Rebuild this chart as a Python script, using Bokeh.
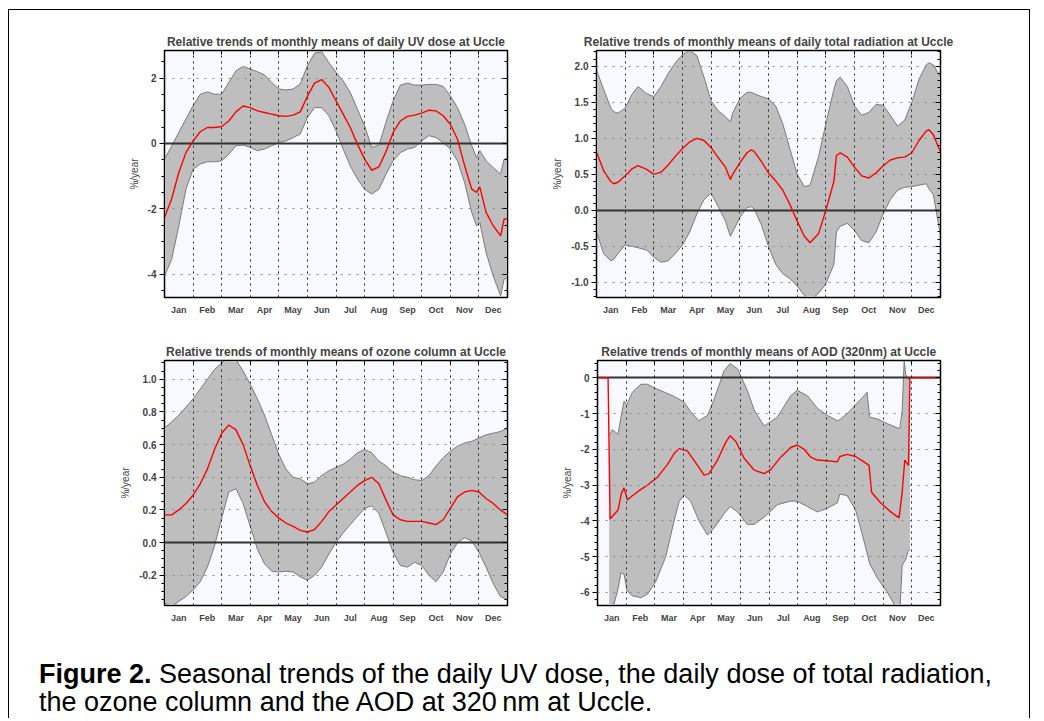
import numpy as np
from bokeh.plotting import figure
from bokeh.models import Range1d, FixedTicker, LinearAxis, NumeralTickFormatter, Div, Spacer
from bokeh.layouts import column, row
from bokeh.embed import file_html
from bokeh.resources import INLINE

MONTHS = ["Jan", "Feb", "Mar", "Apr", "May", "Jun", "Jul", "Aug", "Sep", "Oct", "Nov", "Dec"]
MONTH_CENTERS = [i + 0.5 for i in range(12)]
MONTH_EDGES = [i for i in range(1, 12)]

# ---------------- UV dose ----------------
UV_X = [0, 0.25, 0.5, 0.75, 1.0, 1.25, 1.5, 1.75, 2.0, 2.25, 2.5, 2.75, 3.0, 3.25, 3.5, 3.75,
        4.0, 4.25, 4.5, 4.75, 5.0, 5.25, 5.5, 5.75, 6.0, 6.25, 6.5, 6.75, 7.0, 7.25, 7.5, 7.75,
        8.0, 8.25, 8.5, 8.75, 9.0, 9.25, 9.5, 9.75, 10.0, 10.25, 10.5, 10.75, 10.92, 11.03,
        11.25, 11.5, 11.76, 11.88, 12.0]
UV_TREND = [-2.27, -1.70, -0.89, -0.28, 0.08, 0.36, 0.49, 0.49, 0.52, 0.69, 0.97, 1.15, 1.10, 1.00,
            0.95, 0.90, 0.85, 0.83, 0.87, 0.97, 1.45, 1.85, 1.96, 1.72, 1.31, 0.90, 0.49, -0.02,
            -0.48, -0.82, -0.72, -0.25, 0.34, 0.69, 0.83, 0.87, 0.93, 1.02, 1.00, 0.85, 0.59, 0.13,
            -0.68, -1.40, -1.50, -1.33, -2.11, -2.52, -2.83, -2.32, -2.30]
UV_HI = [-0.48, -0.08, 0.34, 0.75, 1.16, 1.51, 1.58, 1.51, 1.51, 1.87, 2.23, 2.36, 2.28, 2.20, 2.10,
         1.87, 1.67, 1.64, 1.67, 1.82, 2.38, 2.77, 2.81, 2.48, 2.18, 1.92, 1.56, 1.05, 0.54, -0.12,
         -0.05, 0.65, 1.31, 1.79, 1.85, 1.79, 1.79, 1.81, 1.81, 1.75, 1.46, 1.10, 0.59, -0.07,
         -0.43, -0.22, -0.53, -0.74, -0.94, -0.48, -0.46]
UV_LO = [-4.06, -3.55, -2.53, -1.40, -0.79, -0.63, -0.56, -0.56, -0.53, -0.33, -0.07, -0.05, -0.12,
         -0.22, -0.17, -0.07, 0.03, 0.08, 0.18, 0.29, 0.80, 1.10, 1.10, 0.85, 0.39, -0.17, -0.69,
         -1.09, -1.40, -1.55, -1.40, -0.94, -0.53, -0.28, -0.17, -0.12, 0.08, 0.24, 0.18, 0.03,
         -0.17, -0.53, -1.20, -2.12, -2.53, -2.42, -3.34, -4.06, -4.67, -4.16, -4.11]
UV_YTICKS = [-4, -2, 0, 2]

# ---------------- Total radiation ----------------
TR_X = [0, 0.25, 0.5, 0.6, 0.75, 1.0, 1.25, 1.45, 1.75, 2.0, 2.25, 2.5, 2.75, 3.0, 3.25, 3.5, 3.75,
        4.0, 4.25, 4.5, 4.67, 4.75, 5.0, 5.25, 5.4, 5.5, 5.75, 6.0, 6.25, 6.5, 6.75, 7.0, 7.25, 7.45,
        7.75, 8.0, 8.28, 8.37, 8.5, 8.75, 9.0, 9.25, 9.5, 9.75, 10.0, 10.25, 10.5, 10.75, 11.0,
        11.25, 11.5, 11.6, 11.75, 12.0]
TR_TREND = [0.81, 0.55, 0.40, 0.37, 0.39, 0.48, 0.58, 0.62, 0.57, 0.50, 0.53, 0.63, 0.75, 0.86, 0.95,
            1.00, 0.97, 0.87, 0.73, 0.60, 0.43, 0.50, 0.66, 0.80, 0.84, 0.82, 0.68, 0.52, 0.41, 0.28,
            0.08, -0.15, -0.36, -0.45, -0.32, 0.00, 0.40, 0.76, 0.80, 0.74, 0.60, 0.48, 0.45, 0.52,
            0.62, 0.70, 0.73, 0.74, 0.80, 0.97, 1.10, 1.12, 1.05, 0.81]
TR_HI = [1.95, 1.68, 1.42, 1.37, 1.35, 1.42, 1.62, 1.72, 1.62, 1.58, 1.72, 1.90, 2.05, 2.16, 2.22,
         2.15, 1.85, 1.52, 1.38, 1.30, 1.23, 1.35, 1.55, 1.64, 1.64, 1.62, 1.58, 1.55, 1.45, 1.20,
         0.85, 0.50, 0.33, 0.35, 0.75, 1.20, 1.68, 1.80, 1.85, 1.72, 1.45, 1.32, 1.36, 1.47, 1.46,
         1.32, 1.17, 1.25, 1.50, 1.82, 2.02, 2.05, 2.02, 1.85]
TR_LO = [-0.30, -0.60, -0.70, -0.68, -0.60, -0.48, -0.50, -0.52, -0.55, -0.65, -0.72, -0.70, -0.60,
         -0.48, -0.30, -0.05, 0.15, 0.24, 0.05, -0.15, -0.36, -0.30, -0.10, 0.04, 0.05, 0.02, -0.20,
         -0.50, -0.75, -0.88, -0.95, -1.05, -1.18, -1.25, -1.15, -1.02, -0.75, -0.30, -0.22, -0.18,
         -0.28, -0.42, -0.45, -0.30, -0.05, 0.15, 0.28, 0.32, 0.33, 0.35, 0.37, 0.30, 0.22, -0.35]
TR_YTICKS = [-1.0, -0.5, 0.0, 0.5, 1.0, 1.5, 2.0]

# ---------------- Ozone column ----------------
OZ_X = [0, 0.25, 0.5, 0.75, 1.0, 1.25, 1.5, 1.75, 2.0, 2.25, 2.5, 2.75, 3.0, 3.25, 3.5, 3.75,
        4.0, 4.25, 4.5, 4.75, 5.0, 5.25, 5.5, 5.75, 6.0, 6.25, 6.5, 6.75, 7.0, 7.25, 7.5, 7.75,
        8.0, 8.25, 8.5, 8.75, 9.0, 9.25, 9.5, 9.75, 10.0, 10.25, 10.5, 10.75, 11.0, 11.25, 11.5,
        11.75, 12.0]
OZ_TREND = [0.17, 0.17, 0.20, 0.24, 0.29, 0.36, 0.45, 0.57, 0.67, 0.72, 0.69, 0.60, 0.47, 0.35, 0.25,
            0.19, 0.15, 0.12, 0.10, 0.075, 0.065, 0.08, 0.13, 0.19, 0.23, 0.27, 0.31, 0.35, 0.38,
            0.40, 0.36, 0.26, 0.17, 0.14, 0.13, 0.13, 0.13, 0.12, 0.11, 0.14, 0.21, 0.28, 0.31, 0.32,
            0.31, 0.27, 0.24, 0.20, 0.17]
OZ_HI = [0.70, 0.74, 0.78, 0.83, 0.88, 0.94, 1.00, 1.06, 1.10, 1.13, 1.12, 1.05, 0.97, 0.88, 0.78,
         0.66, 0.54, 0.45, 0.40, 0.39, 0.36, 0.37, 0.41, 0.44, 0.46, 0.48, 0.51, 0.55, 0.57, 0.55,
         0.50, 0.47, 0.43, 0.41, 0.40, 0.385, 0.38, 0.41, 0.47, 0.52, 0.56, 0.59, 0.61, 0.62, 0.64,
         0.66, 0.67, 0.68, 0.70]
OZ_LO = [-0.37, -0.39, -0.36, -0.33, -0.29, -0.24, -0.15, -0.02, 0.15, 0.31, 0.33, 0.24, 0.10, -0.04,
         -0.13, -0.175, -0.18, -0.175, -0.18, -0.21, -0.23, -0.20, -0.15, -0.07, 0.00, 0.06, 0.11,
         0.16, 0.21, 0.225, 0.18, 0.06, -0.06, -0.14, -0.15, -0.12, -0.14, -0.20, -0.24, -0.18,
         -0.07, 0.00, 0.03, 0.01, -0.06, -0.15, -0.25, -0.33, -0.35]
OZ_YTICKS = [-0.2, 0.0, 0.2, 0.4, 0.6, 0.8, 1.0]

# ---------------- AOD (320nm) ----------------
AOD_BAND_X = [0.41, 0.52, 0.72, 0.82, 0.93, 1.03, 1.22, 1.52, 1.75, 2.04, 2.39, 2.68, 2.86, 3.03,
              3.26, 3.55, 3.85, 4.08, 4.43, 4.64, 4.90, 5.24, 5.48, 5.83, 6.29, 6.76, 6.99, 7.34,
              7.69, 8.04, 8.39, 8.48, 8.74, 9.03, 9.27, 9.43, 9.52, 9.79, 10.14, 10.49, 10.58,
              10.66, 10.73, 10.78, 10.86, 10.93]
AOD_HI = [-1.60, -1.45, -1.58, -1.10, -0.65, -0.75, -0.40, -0.18, -0.18, -0.30, -0.42, -0.52, -0.60,
          -0.68, -0.95, -1.20, -1.05, -0.60, 0.20, 0.40, 0.25, -0.35, -0.90, -1.35, -1.10, -0.50,
          -0.35, -0.50, -0.85, -1.05, -1.20, -1.17, -1.00, -0.75, -0.55, -0.40, -1.10, -1.15, -1.28,
          -1.40, -1.42, -0.90, 0.48, 0.10, -0.02, -0.05]
AOD_LO = [-6.5, -6.5, -5.90, -5.45, -5.50, -5.95, -6.10, -6.15, -6.05, -5.70, -5.00, -4.00, -3.45,
          -3.28, -3.45, -4.00, -4.40, -4.20, -3.80, -3.60, -3.75, -4.10, -4.10, -3.90, -3.55, -3.45,
          -3.45, -3.60, -3.75, -3.65, -3.50, -3.25, -3.30, -3.70, -4.40, -4.90, -5.20, -5.60, -6.00,
          -6.50, -6.50, -5.25, -5.15, -5.10, -4.85, -4.80]
AOD_X = [0, 0.37, 0.44, 0.72, 0.84, 0.93, 1.05, 1.22, 1.52, 1.75, 2.10, 2.45, 2.68, 2.86, 3.15, 3.50,
         3.73, 3.90, 4.20, 4.49, 4.64, 4.84, 5.13, 5.48, 5.83, 6.06, 6.41, 6.76, 6.99, 7.23, 7.46,
         7.69, 8.04, 8.39, 8.48, 8.74, 9.03, 9.32, 9.50, 9.59, 9.91, 10.26, 10.55, 10.66, 10.75,
         10.88, 10.93, 12.0]
AOD_TREND = [0, 0, -3.95, -3.70, -3.22, -3.08, -3.42, -3.30, -3.12, -3.00, -2.78, -2.42, -2.12, -1.98,
             -2.05, -2.45, -2.72, -2.68, -2.30, -1.80, -1.62, -1.78, -2.25, -2.58, -2.68, -2.57,
             -2.22, -1.95, -1.88, -2.00, -2.22, -2.30, -2.32, -2.35, -2.20, -2.14, -2.20, -2.35,
             -2.45, -3.20, -3.50, -3.75, -3.92, -3.20, -2.30, -2.45, 0, 0]
AOD_YTICKS = [-6, -5, -4, -3, -2, -1, 0]

FONT = "Liberation Sans"


def panel(title, width, height, bl, br, bt, bb, yr, yticks, yminor, fmt,
          bx, blo, bhi, lx, ly):
    p = figure(width=width, height=height, min_border_left=bl, min_border_right=br,
               min_border_top=bt, min_border_bottom=bb,
               x_range=Range1d(0, 12), y_range=Range1d(*yr),
               output_backend="svg", toolbar_location=None,
               background_fill_color="#f8f8ff", border_fill_color="white",
               title=title)
    p.title.text_font = FONT
    p.title.text_font_size = "12px"
    p.title.text_font_style = "bold"
    p.title.align = "center"
    p.title.standoff = 4
    p.outline_line_color = "black"
    p.outline_line_width = 1.5

    p.varea(x=bx, y1=blo, y2=bhi, fill_color="#bebebe")
    p.line(bx, blo, line_color="#7a7a7a", line_width=1)
    p.line(bx, bhi, line_color="#7a7a7a", line_width=1)
    p.hspan(y=[0], line_color="#333333", line_width=2)
    p.line(lx, ly, line_color="#ff0000", line_width=1.4)

    yt = FixedTicker(ticks=yticks, minor_ticks=list(yminor))

    xa = p.xaxis[0]
    xa.ticker = FixedTicker(ticks=MONTH_CENTERS)
    xa.major_label_overrides = {c: m for c, m in zip(MONTH_CENTERS, MONTHS)}
    xa.major_tick_line_color = None
    xa.minor_tick_line_color = None
    xa.axis_line_color = "black"
    xa.major_label_text_font = FONT
    xa.major_label_text_font_style = "bold"
    xa.major_label_text_font_size = "9px"
    xa.major_label_standoff = 1

    ya = p.yaxis[0]
    ya.ticker = yt
    ya.formatter = NumeralTickFormatter(format=fmt)
    ya.major_tick_out = 5
    ya.major_tick_in = 0
    ya.minor_tick_out = 3
    ya.minor_tick_in = 0
    ya.axis_line_color = "black"
    ya.major_label_text_font = FONT
    ya.major_label_text_font_style = "bold"
    ya.major_label_text_font_size = "10px"
    ya.major_label_standoff = 3
    ya.axis_label = "%/year"
    ya.axis_label_text_font = FONT
    ya.axis_label_text_font_style = "normal"
    ya.axis_label_text_font_size = "10px"
    ya.axis_label_standoff = 5

    ra = LinearAxis(ticker=yt, major_label_text_font_size="0px", major_label_text_color=None,
                    major_tick_in=5, major_tick_out=0, minor_tick_in=3, minor_tick_out=0,
                    axis_line_color="black", major_label_standoff=0)
    p.add_layout(ra, "right")
    ta = LinearAxis(ticker=FixedTicker(ticks=MONTH_EDGES), major_label_text_font_size="0px",
                    major_label_text_color=None, major_tick_in=4, major_tick_out=0,
                    minor_tick_line_color=None, axis_line_color="black", major_label_standoff=0)
    p.add_layout(ta, "above")

    p.xgrid.ticker = FixedTicker(ticks=MONTH_EDGES)
    p.xgrid.grid_line_color = "#222222"
    p.xgrid.grid_line_dash = "2 4"
    p.xgrid.grid_line_width = 1
    p.xgrid.level = "guide"
    p.ygrid.ticker = FixedTicker(ticks=[t for t in yticks if t != 0])
    p.ygrid.grid_line_color = "#8a8a8a"
    p.ygrid.grid_line_dash = "2 6"
    p.ygrid.grid_line_width = 1
    p.ygrid.level = "guide"
    return p


p1 = panel("Relative trends of monthly means of daily UV dose at Uccle",
           531, 315, 155, 33, 40, 28, (-4.72, 2.85), UV_YTICKS, np.arange(-4.5, 3.0, 0.5), "0",
           UV_X, UV_LO, UV_HI, UV_X, UV_TREND)
p2 = panel("Relative trends of monthly means of daily total radiation at Uccle",
           489, 315, 56, 89, 40, 28, (-1.21, 2.22), TR_YTICKS, np.arange(-1.2, 2.25, 0.1), "0.0",
           TR_X, TR_LO, TR_HI, TR_X, TR_TREND)
p3 = panel("Relative trends of monthly means of ozone column at Uccle",
           531, 305, 155, 33, 34, 23, (-0.385, 1.115), OZ_YTICKS, np.arange(-0.35, 1.12, 0.05), "0.0",
           OZ_X, OZ_LO, OZ_HI, OZ_X, OZ_TREND)
p4 = panel("Relative trends of monthly means of AOD (320nm) at Uccle",
           489, 305, 57, 89, 35, 25, (-6.37, 0.485), AOD_YTICKS, np.arange(-6.2, 0.5, 0.2), "0",
           AOD_BAND_X, AOD_LO, AOD_HI, AOD_X, AOD_TREND)

cap = Div(text=('<div style="font-family:\'Liberation Sans\',Arial,sans-serif;font-size:27px;'
                'line-height:28px;padding-left:30px;padding-top:30px;color:#000;white-space:nowrap;">'
                '<b>Figure 2.</b> Seasonal trends of the daily UV dose, the daily dose of total radiation,<br>'
                'the ozone column and the AOD at 320&#8201;nm at Uccle.</div>'),
          width=1020, height=88, margin=0)

inner = column(row(p1, p2), row(p3, p4), cap)
top_line = Div(text="", width=1022, height=1, margin=0, styles={"background-color": "#000"})
left_line = Div(text="", width=1, height=708, margin=0, styles={"background-color": "#000"})
right_line = Div(text="", width=1, height=708, margin=0, styles={"background-color": "#000"})

layout = column(Spacer(width=10, height=9),
                row(Spacer(width=8, height=1), top_line),
                row(Spacer(width=8, height=10), left_line, inner, right_line))

open("out.html", "w").write(file_html(layout, INLINE))
